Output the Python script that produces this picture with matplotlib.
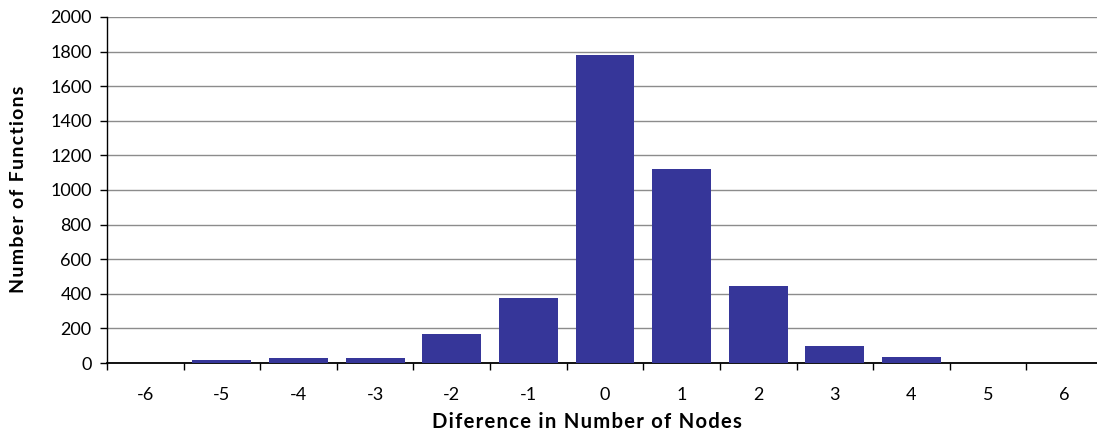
import matplotlib
matplotlib.use("Agg")
import matplotlib.pyplot as plt
import numpy as np

categories = ["-6", "-5", "-4", "-3", "-2", "-1", "0", "1", "2", "3", "4", "5", "6"]
values = [0, 17, 29, 29, 168, 376, 1780, 1121, 445, 100, 36, 0, 0]
yticks = [0, 200, 400, 600, 800, 1000, 1200, 1400, 1600, 1800, 2000]

plt.rcParams['font.family'] = ['Lato', 'DejaVu Sans']

W, H = 1097, 436
fig = plt.figure(figsize=(W/100, H/100), dpi=100)
left, right, bottom, top = 107, 1103, 363, 17
ax = fig.add_axes([left/W, (H-bottom)/H, (right-left)/W, (bottom-top)/H])

x = np.arange(len(categories))
ax.bar(x, values, width=0.77, color='#363699', zorder=3)
ax.set_xlim(-0.5, len(categories)-0.5)
ax.set_ylim(0, 2000)
ax.set_yticks(yticks)
ax.set_yticklabels([str(v) for v in yticks], fontsize=13)
ax.yaxis.grid(True, color='#8c8c8c', linewidth=1.0, zorder=0)

ax.set_xticks(np.arange(-0.5, len(categories), 1.0))
ax.set_xticklabels([])
ax.set_xticks(x, minor=True)
ax.set_xticklabels(categories, minor=True, fontsize=13)
ax.tick_params(axis='x', which='major', direction='out', length=5, width=1, color='black')
ax.tick_params(axis='x', which='minor', length=0, pad=17)
ax.tick_params(axis='y', direction='out', length=5, width=1, color='black', pad=6)

for s in ['top', 'right']:
    ax.spines[s].set_visible(False)
ax.spines['left'].set_color('black')
ax.spines['bottom'].set_color('black')
ax.spines['left'].set_linewidth(1)
ax.spines['bottom'].set_linewidth(1.3)

def spaced(s):
    return '\u200a'.join(s)

fig.text(587/W, 1 - 422/H, spaced('Diference in Number of Nodes'), fontsize=14.6,
         fontweight='bold', ha='center', va='center')
fig.text(19/W, 1 - 189/H, spaced('Number of Functions'), fontsize=14,
         fontweight='bold', ha='center', va='center', rotation=90)

fig.savefig('out.png', dpi=100)
